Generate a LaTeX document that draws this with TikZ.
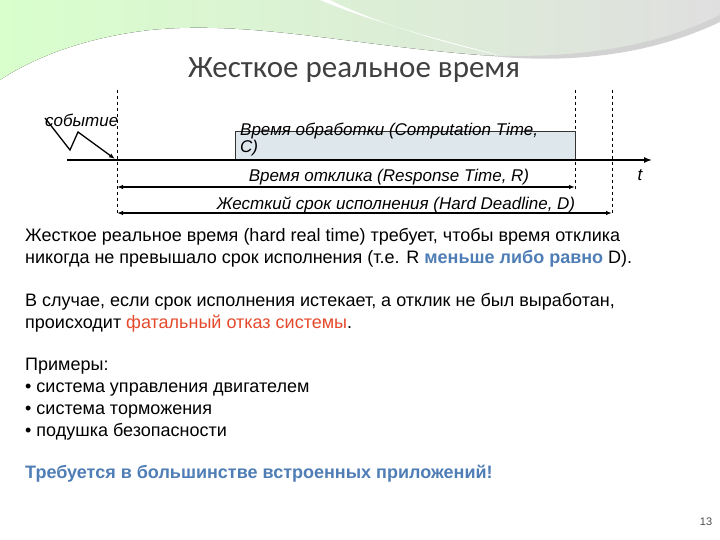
\documentclass[tikz,border=0pt]{standalone}
\usepackage{fontspec}
\setmainfont{Liberation Sans}
\newfontfamily\titlefont{Carlito}
\usetikzlibrary{arrows.meta}
\definecolor{hl}{HTML}{4F7DB5}
\definecolor{rd}{HTML}{E5492B}
\definecolor{boxf}{HTML}{DDE7EC}
\begin{document}
\begin{tikzpicture}[x=1pt,y=-1pt,
  dim/.style={{Latex[length=6pt]}-{Latex[length=6pt]}, line width=1.6pt},
  vdash/.style={dashed, line width=0.5pt},
  lbl/.style={font=\itshape\fontsize{17}{19}\selectfont, inner sep=0pt},
  body/.style={anchor=west, font=\fontsize{18}{22}\selectfont, align=left, inner sep=0pt}]
\useasboundingbox (0,0) rectangle (720,540);
% decorative header
\fill[left color=yellow!25!green!20, right color=gray!25] (0,0) -- (720,0) -- (720,20) .. controls (650,55) and (560,60) .. (480,55) .. controls (350,45) and (250,20) .. (150,30) .. controls (80,38) and (30,60) .. (0,80) -- cycle;
\fill[white] (320,0) .. controls (380,25) and (460,45) .. (510,58) .. controls (430,40) and (370,20) .. (330,0) -- cycle;
\fill[gray!35] (480,55) .. controls (580,60) and (660,45) .. (720,15) -- (720,22) .. controls (650,55) and (570,65) .. (480,55) -- cycle;
\node[font=\titlefont\fontsize{31}{34}\selectfont, text=black!75] (title) at (354,70) {Жесткое реальное время};
% dashed verticals
\coordinate (d0t) at (117,90); \coordinate (d0b) at (117,215);
\coordinate (d1t) at (575,90); \coordinate (d1b) at (575,190);
\coordinate (d2t) at (612,90); \coordinate (d2b) at (612,215);
\draw[vdash] (d0t) -- (d0b);
\draw[vdash] (d1t) -- (d1b);
\draw[vdash] (d2t) -- (d2b);
% box
\node[draw=black!80, line width=1.2pt, fill=boxf, minimum width=340pt, minimum height=28pt, anchor=south west, inner sep=0pt] (box) at (235,160) {};
\node[lbl, anchor=north west, align=left] (boxt) at (240,123) {Время обработки (Computation Time,\\[-2pt]C)};
% axis
\coordinate (ax0) at (67,160); \coordinate (ax1) at (652,160);
\draw[-{Latex[length=8pt]}, line width=1.4pt] (ax0) -- (ax1);
\node[lbl] (t) at (640,175) {t};
% event
\node[lbl, anchor=west] (ev) at (45,120) {событие};
\coordinate (e0) at (45,118); \coordinate (e1) at (70,150); \coordinate (e2) at (78,132); \coordinate (e3) at (115,159);
\draw[-{Latex[length=6pt]}, line width=1.3pt] (e0) -- (e1) -- (e2) -- (e3);
% dimensions
\coordinate (r0) at (117,187); \coordinate (r1) at (575,187);
\coordinate (h0) at (117,213); \coordinate (h1) at (612,213);
\draw[dim] (r0) -- (r1);
\draw[dim] (h0) -- (h1);
\node[lbl] (rl) at (389,177) {Время отклика (Response Time, R)};
\node[lbl] (hl) at (396,205) {Жесткий срок  исполнения (Hard Deadline, D)};
% body text
\node[body] (p1) at (25,248) {Жесткое реальное время (hard real time) требует, чтобы время отклика\\никогда не превышало срок исполнения (т.е. R \textcolor{hl}{\bfseries меньше либо равно} D).};
\node[body] (p2) at (25,313) {В случае, если срок исполнения истекает, а отклик не был выработан,\\происходит \textcolor{rd}{фатальный отказ системы}.};
\node[body] (p3) at (25,399) {Примеры:\\• система управления двигателем\\• система торможения\\• подушка безопасности};
\node[body, text=hl, font=\bfseries\fontsize{18}{22}\selectfont] (p4) at (25,474) {Требуется в большинстве встроенных приложений!};
\node[font=\fontsize{11}{12}\selectfont, text=black!70] (pg) at (706,522) {13};
\end{tikzpicture}
\end{document}
